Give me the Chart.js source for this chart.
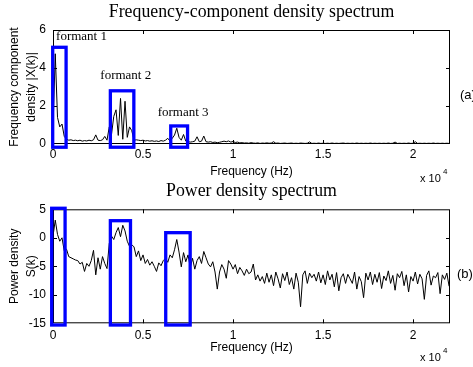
<!DOCTYPE html>
<html>
<head>
<meta charset="utf-8">
<script src="https://cdn.jsdelivr.net/npm/chart.js@4.4.1/dist/chart.umd.min.js"></script>
<style>
    html, body { margin: 0; padding: 0; background: #fff; }
    #wrap { position: relative; width: 473px; height: 367px; overflow: hidden; }
    canvas { position: absolute; left: 0; }
</style>
</head>
<body>
<div id="wrap">
    <canvas id="density-chart" width="473" height="190" style="top:0"></canvas>
    <canvas id="power-chart" width="473" height="189" style="top:178px"></canvas>
</div>
<script>
// frequency bins (Hz), axis range and tick positions
const binHz = 125;
const freqMax = 22050;
const freqTicks = [0, 5000, 10000, 15000, 20000];

// (a) frequency-component density |X(k)|, one value per bin
const densityValues = [
    0.8, 4.75, 1.4, 0.9, 1.05, 0.4, 0.25, 0.2, 0.22, 0.18,
    0.2, 0.17, 0.2, 0.15, 0.18, 0.16, 0.2, 0.17, 0.22, 0.48,
    0.2, 0.18, 0.22, 0.4, 0.2, 0.9, 0.5, 1.45, 1.8, 0.45,
    2.4, 0.25, 2.25, 0.35, 0.9, 0.7, 0.2, 0.22, 0.2, 0.18,
    0.2, 0.16, 0.18, 0.15, 0.17, 0.14, 0.16, 0.13, 0.18, 0.15,
    0.2, 0.3, 0.15, 0.3, 0.47, 0.83, 0.35, 0.2, 0.5, 0.15,
    0.12, 0.1, 0.12, 0.15, 0.38, 0.12, 0.15, 0.42, 0.12, 0.1,
    0.12, 0.08, 0.1, 0.07, 0.09, 0.12, 0.15, 0.12, 0.16, 0.1,
    0.13, 0.08, 0.1, 0.06, 0.07, 0.05, 0.06, 0.04, 0.07, 0.05,
    0.04, 0.06, 0.03, 0.05, 0.04, 0.06, 0.04, 0.05, 0.12, 0.04,
    0.05, 0.03, 0.04, 0.05, 0.03, 0.04, 0.05, 0.03, 0.04, 0.03,
    0.05, 0.04, 0.03, 0.04, 0.11, 0.03, 0.04, 0.03, 0.05, 0.03,
    0.04, 0.03, 0.04, 0.03, 0.05, 0.03, 0.04, 0.03, 0.04, 0.05,
    0.03, 0.04, 0.03, 0.04, 0.03, 0.05, 0.03, 0.04, 0.03, 0.04,
    0.03, 0.05, 0.03, 0.04, 0.03, 0.04, 0.03, 0.04, 0.03, 0.05,
    0.03, 0.04, 0.10, 0.03, 0.04, 0.03, 0.04, 0.03, 0.05, 0.03,
    0.04, 0.12, 0.03, 0.04, 0.03, 0.04, 0.03, 0.04, 0.03, 0.05,
    0.03, 0.04, 0.03, 0.04, 0.03, 0.04, 0.03,
];

// (b) power density S(k), one value per bin
const powerValues = [
    0.3, 3.1, 0.6, -0.6, 0.0, -2.3, -2.0, -3.3, -3.5, -3.7,
    -3.9, -4.0, -4.6, -4.3, -5.9, -4.5, -5.0, -4.0, -2.2, -6.5,
    -3.5, -5.5, -3.3, -4.5, -5.4, -1.0, 0.3, -0.3, 0.9, 1.8,
    0.2, 2.2, 1.2, -0.6, -1.5, -1.2, -1.6, -3.3, -2.3, -4.0,
    -3.0, -4.5, -3.8, -4.8, -4.2, -5.0, -5.9, -4.4, -4.9, -4.0,
    -3.6, -4.3, -3.0, -3.5, -2.1, -0.3, -2.5, -5.1, -2.6, -4.2,
    -3.0, -5.2, -3.6, -5.5, -4.0, -3.3, -4.5, -2.4, -3.5, -4.6,
    -5.1, -4.2, -6.0, -9.0, -6.0, -4.7, -5.5, -7.1, -4.0, -4.6,
    -5.5, -4.7, -6.3, -5.2, -5.8, -6.6, -5.5, -6.3, -6.0, -4.6,
    -7.4, -6.5, -7.6, -6.8, -8.0, -6.2, -7.8, -6.5, -8.4, -6.0,
    -7.2, -8.8, -6.3, -7.5, -6.0, -8.2, -7.0, -9.0, -6.2, -7.8,
    -12.1, -6.5, -5.8, -8.0, -6.2, -7.0, -6.4, -7.6, -6.0, -7.9,
    -6.5, -8.2, -5.8, -7.4, -6.4, -8.6, -6.1, -9.3, -7.0, -6.3,
    -8.0, -6.4, -7.2, -8.0, -6.0, -9.0, -6.8, -7.7, -10.5, -6.2,
    -7.4, -6.0, -8.2, -6.4, -7.8, -6.1, -8.9, -6.7, -7.5, -5.8,
    -8.0, -6.6, -9.2, -6.3, -7.0, -5.9, -8.4, -6.5, -9.5, -6.8,
    -7.6, -6.0, -8.1, -6.4, -7.2, -10.8, -6.6, -5.8, -8.3, -6.7,
    -7.0, -6.1, -9.8, -6.5, -7.3, -6.2, -8.5,
];

// formant marker boxes, in data units (Hz / axis value)
const formantNames = ["formant 1", "formant 2", "formant 3"];
const densityBoxLo = [-17, 3186, 6540];
const densityBoxHi = [727, 4490, 7474];
const densityBoxTop = [5.09, 2.8, 0.95];
const densityBoxBottom = -0.17;
const labelHz = [170, 2627, 5813];
const labelLevel = [5.63, 3.58, 1.63];
const powerBoxLo = [-73, 3186, 6261];
const powerBoxHi = [671, 4304, 7619];
const powerBoxTop = [5.18, 3.0, 0.9];
const powerBoxBottom = -15.3;

const sans = "Arial, 'Liberation Sans', sans-serif";
const serif = "'Times New Roman', 'Liberation Serif', serif";
const axisFont = { family: sans, size: 12 };

// box frame with inward ticks, blue formant boxes and the side notes
function overlay(boxLo, boxHi, boxTop, boxBottom, withLabels, tag, tagX) {
    return {
        id: "overlay",
        afterDraw(chart) {
            const { ctx, chartArea: a, scales } = chart;
            const x = scales.x, y = scales.y;
            ctx.save();
            ctx.strokeStyle = "#000";
            ctx.lineWidth = 1;
            ctx.strokeRect(a.left + 0.5, a.top + 0.5, a.width - 1, a.height - 1);
            ctx.beginPath();
            x.ticks.forEach(t => {
                const px = Math.round(x.getPixelForValue(t.value)) + 0.5;
                if (px < a.left + 2) return;
                ctx.moveTo(px, a.bottom); ctx.lineTo(px, a.bottom - 4);
                ctx.moveTo(px, a.top); ctx.lineTo(px, a.top + 4);
            });
            y.ticks.forEach(t => {
                const py = Math.round(y.getPixelForValue(t.value)) + 0.5;
                if (py < a.top + 2 || py > a.bottom - 2) return;
                ctx.moveTo(a.left, py); ctx.lineTo(a.left + 4, py);
                ctx.moveTo(a.right, py); ctx.lineTo(a.right - 4, py);
            });
            ctx.stroke();

            ctx.strokeStyle = "#0000ff";
            ctx.lineWidth = 3.3;
            boxLo.forEach((lo, i) => {
                const l = x.getPixelForValue(lo), r = x.getPixelForValue(boxHi[i]);
                const t = y.getPixelForValue(boxTop[i]), b = y.getPixelForValue(boxBottom);
                ctx.strokeRect(l, t, r - l, b - t);
            });

            ctx.fillStyle = "#000";
            ctx.textBaseline = "middle";
            if (withLabels) {
                ctx.font = "13px " + serif;
                ctx.textAlign = "left";
                formantNames.forEach((name, i) => {
                    ctx.fillText(name, x.getPixelForValue(labelHz[i]), y.getPixelForValue(labelLevel[i]));
                });
            }
            ctx.font = "13px " + sans;
            ctx.fillText(tag, tagX, (a.top + a.bottom) / 2 + 8);
            ctx.font = "11px " + sans;
            ctx.fillText("x 10", 420, a.bottom + 35);
            ctx.font = "8px " + sans;
            ctx.fillText("4", 443, a.bottom + 27.5);
            ctx.restore();
        },
    };
}

function spectrumChart(canvasId, values, cfg, plugin) {
    return new Chart(document.getElementById(canvasId), {
        type: "line",
        data: {
            datasets: [{
                data: values.map((v, i) => ({ x: i * binHz, y: v })),
                borderColor: "#000",
                borderWidth: 1,
                pointRadius: 0,
                tension: 0,
            }],
        },
        options: {
            responsive: false,
            animation: false,
            events: [],
            layout: { padding: { left: 0, right: 23, top: 0, bottom: 0 } },
            plugins: { legend: { display: false }, tooltip: { enabled: false } },
            scales: {
                x: {
                    type: "linear",
                    min: 0,
                    max: freqMax,
                    grid: { display: false, drawTicks: false },
                    border: { display: false },
                    afterBuildTicks: s => { s.ticks = freqTicks.map(v => ({ value: v })); },
                    ticks: {
                        maxRotation: 0,
                        autoSkip: false,
                        padding: cfg.tickPad,
                        color: "#000",
                        font: axisFont,
                        callback: v => v / 10000,
                    },
                    title: {
                        display: true,
                        text: "Frequency (Hz)",
                        color: "#000",
                        font: axisFont,
                        padding: { top: 0, bottom: cfg.xTitlePad },
                    },
                    afterFit: s => { s.height = cfg.xHeight; },
                },
                heading: {
                    axis: "x",
                    type: "linear",
                    position: "top",
                    min: 0,
                    max: freqMax,
                    grid: { display: false, drawTicks: false },
                    border: { display: false },
                    ticks: { display: false },
                    title: {
                        display: true,
                        text: cfg.title,
                        color: "#000",
                        font: { family: serif, size: 17.8 },
                        padding: { top: cfg.titlePad, bottom: 0 },
                    },
                    afterFit: s => { s.height = cfg.topHeight; },
                },
                y: {
                    min: cfg.yMin,
                    max: cfg.yMax,
                    grid: { display: false, drawTicks: false },
                    border: { display: false },
                    ticks: { stepSize: cfg.yStep, padding: 7, color: "#000", font: axisFont },
                    title: {
                        display: true,
                        text: cfg.yTitle,
                        color: "#000",
                        font: { family: sans, size: 12, lineHeight: 1.4 },
                        padding: { top: 6.6, bottom: 0 },
                    },
                    afterFit: s => { s.width = 53; },
                },
            },
        },
        plugins: [plugin],
    });
}

spectrumChart("density-chart", densityValues, {
    title: "Frequency-component density spectrum",
    yTitle: ["Frequency component", "density |X(k)|"],
    yMin: 0, yMax: 6, yStep: 2,
    topHeight: 30, xHeight: 46,
    titlePad: 2, tickPad: 3.8, xTitlePad: 11.1,
}, overlay(densityBoxLo, densityBoxHi, densityBoxTop, densityBoxBottom, true, "(a)", 460));

spectrumChart("power-chart", powerValues, {
    title: "Power density spectrum",
    yTitle: ["Power density", "S(k)"],
    yMin: -15, yMax: 5, yStep: 5,
    topHeight: 31.3, xHeight: 43.7,
    titlePad: 3, tickPad: 4.8, xTitlePad: 11.8,
}, overlay(powerBoxLo, powerBoxHi, powerBoxTop, powerBoxBottom, false, "(b)", 457));
</script>
</body>
</html>
